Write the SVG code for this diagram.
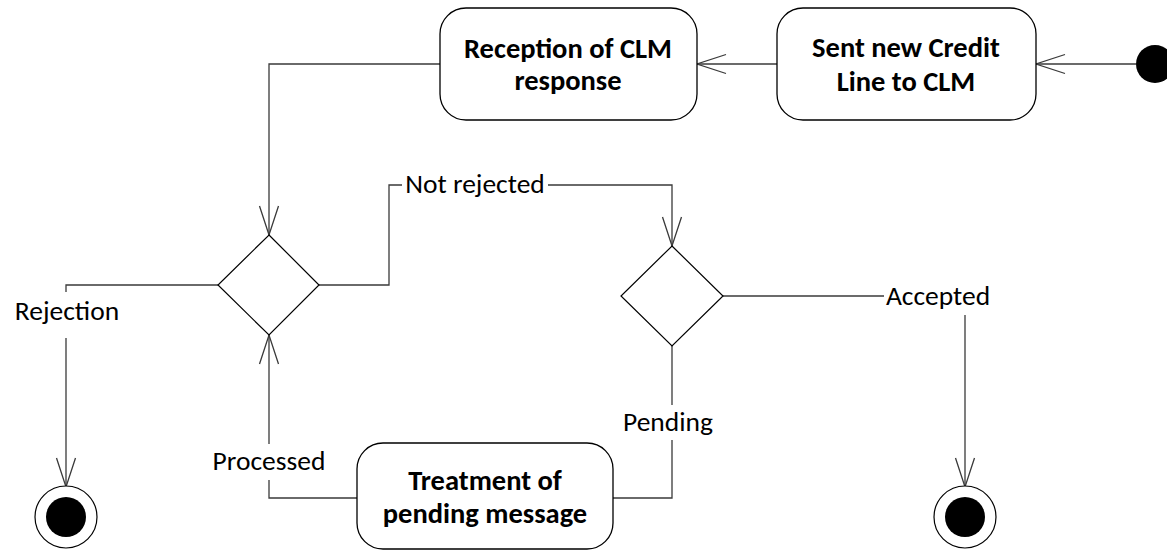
<svg xmlns="http://www.w3.org/2000/svg" width="1167" height="551" viewBox="0 0 1167 551">
<style>
.box{fill:#fff;stroke:#000;stroke-width:1.3}
.dia{fill:#fff;stroke:#000;stroke-width:1.2}
.con{fill:none;stroke:#3a3a3a;stroke-width:1.3}
.bt{font-family:Carlito,Lato,"Liberation Sans",sans-serif;font-weight:bold;font-size:28.5px;fill:#000;text-anchor:middle}
.lt{font-family:Carlito,Lato,"Liberation Sans",sans-serif;font-size:27.5px;fill:#000;text-anchor:middle}
</style>
<defs>
<marker id="arr" markerUnits="userSpaceOnUse" viewBox="-31 -11 32 22" refX="0" refY="0" markerWidth="32" markerHeight="22" orient="auto" overflow="visible">
<path d="M-29,-9.5 L0,0 L-29,9.5" fill="none" stroke="#3a3a3a" stroke-width="1.3"/>
</marker>
</defs>
<g id="connectors">
<path class="con" d="M1136,64 L1036,64" marker-end="url(#arr)"/>
<path class="con" d="M777,64 L697,64" marker-end="url(#arr)"/>
<path class="con" d="M440,64 L269,64 L269,235" marker-end="url(#arr)"/>
<path class="con" d="M218,285 L66,285 L66,292"/>
<path class="con" d="M66,338 L66,487" marker-end="url(#arr)"/>
<path class="con" d="M319,285 L389,285 L389,185 L402,185"/>
<path class="con" d="M548,185 L672,185 L672,246" marker-end="url(#arr)"/>
<path class="con" d="M723,296 L884,296"/>
<path class="con" d="M965,315 L965,487" marker-end="url(#arr)"/>
<path class="con" d="M672,346 L672,405"/>
<path class="con" d="M672,440 L672,498 L613,498"/>
<path class="con" d="M357,498 L269,498 L269,480"/>
<path class="con" d="M269,444 L269,335" marker-end="url(#arr)"/>
<text class="lt" x="67" y="320">Rejection</text>
<text class="lt" x="475" y="193">Not rejected</text>
<text class="lt" x="938" y="305">Accepted</text>
<text class="lt" x="668" y="431">Pending</text>
<text class="lt" x="269" y="470">Processed</text>
</g>
<g id="initial"><circle cx="1155" cy="64" r="19" fill="#000"/></g>
<g id="sent">
<rect class="box" x="777" y="8" width="259" height="112" rx="26" ry="26"/>
<text class="bt" x="906" y="57">Sent new Credit</text>
<text class="bt" x="906" y="91">Line to CLM</text>
</g>
<g id="reception">
<rect class="box" x="440" y="8" width="257" height="112" rx="26" ry="26"/>
<text class="bt" x="568" y="58">Reception of CLM</text>
<text class="bt" x="568" y="90">response</text>
</g>
<g id="decision1"><polygon class="dia" points="269,235 319,285 269,335 218,285"/></g>
<g id="decision2"><polygon class="dia" points="672,246 723,296 672,346 621,296"/></g>
<g id="treatment">
<rect class="box" x="357" y="443" width="256" height="106" rx="26" ry="26"/>
<text class="bt" x="485" y="490">Treatment of</text>
<text class="bt" x="485" y="523">pending message</text>
</g>
<g id="final1"><circle cx="66" cy="517" r="31" fill="#fff" stroke="#000" stroke-width="1.2"/><circle cx="66" cy="517" r="20" fill="#000"/></g>
<g id="final2"><circle cx="965" cy="517" r="31" fill="#fff" stroke="#000" stroke-width="1.2"/><circle cx="965" cy="517" r="20" fill="#000"/></g>
</svg>
